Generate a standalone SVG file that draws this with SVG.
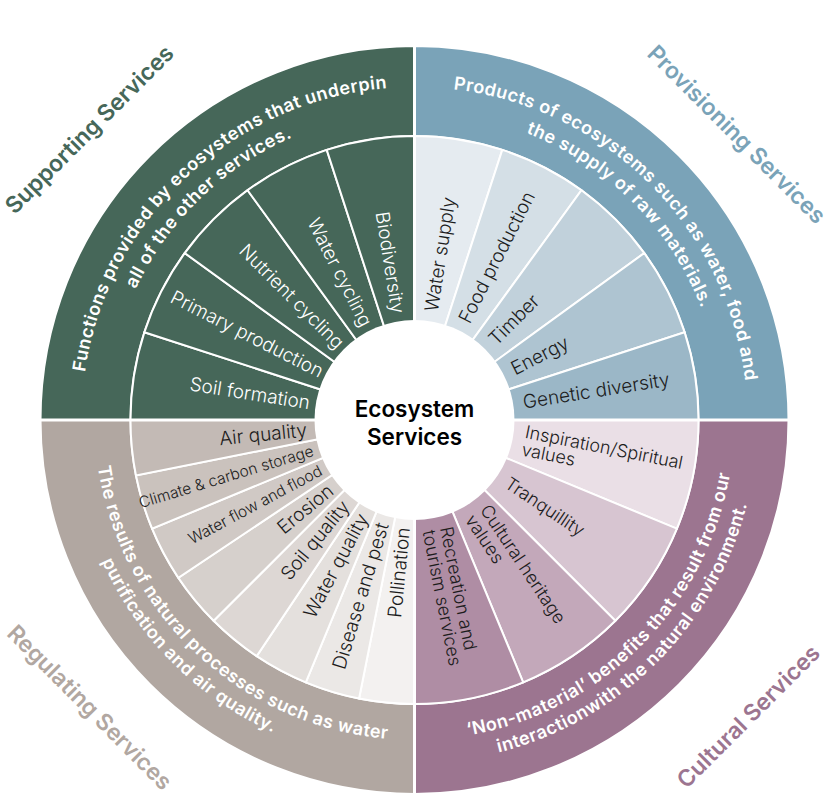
<svg xmlns="http://www.w3.org/2000/svg" width="829" height="810" viewBox="0 0 829 810">
<style>
.seg{stroke:#fff;stroke-width:2}
.lbl{font-family:Inter,"Noto Sans",sans-serif;font-size:19px;font-weight:300;fill:#1c1c1c}
.w{fill:#fff}
.sm{font-size:15.5px}
.cu{font-size:18px}
.band{font-family:Inter,"Noto Sans",sans-serif;font-size:18px;font-weight:600;fill:#fff;letter-spacing:0.5px}
.title{font-family:Inter,"Noto Sans",sans-serif;font-size:23px;font-weight:600}
.ctr{font-family:Inter,"Noto Sans",sans-serif;font-size:22.5px;font-weight:600;fill:#000}
</style>
<defs>
<path id="sp1" d="M81.5 420 A333 333 0 0 1 414.5 87"/>
<path id="sp2" d="M106.5 420 A308 308 0 0 1 414.5 112"/>
<path id="pp1" d="M414.5 87 A333 333 0 0 1 747.5 420"/>
<path id="pp2" d="M414.5 112 A308 308 0 0 1 722.5 420"/>
<path id="cp1" d="M414.5 740 A320 320 0 0 0 734.5 420"/>
<path id="cp2" d="M414.5 763 A343 343 0 0 0 757.5 420"/>
<path id="rp1" d="M94.5 420 A320 320 0 0 0 414.5 740"/>
<path id="rp2" d="M71.5 420 A343 343 0 0 0 414.5 763"/>
</defs>

<g id="supporting">
<path class="seg" fill="#466759" d="M40.5 420 A374 374 0 0 1 414.5 46 L414.5 136 A284 284 0 0 0 130.5 420 Z"/>
<text class="band"><textPath href="#sp1" startOffset="52%" text-anchor="middle">Functions provided by ecosystems that underpin</textPath></text>
<text class="band"><textPath href="#sp2" startOffset="51%" text-anchor="middle">all of the other services.</textPath></text>
<text class="title" fill="#466759" transform="translate(95 135) rotate(-45)" text-anchor="middle">Supporting Services</text>
</g>
<g id="provisioning">
<path class="seg" fill="#7aa3b8" d="M414.5 46 A374 374 0 0 1 788.5 420 L698.5 420 A284 284 0 0 0 414.5 136 Z"/>
<text class="band"><textPath href="#pp1" startOffset="50%" text-anchor="middle">Products of ecosystems such as water, food and</textPath></text>
<text class="band"><textPath href="#pp2" startOffset="50%" text-anchor="middle">the supply of raw materials.</textPath></text>
<text class="title" fill="#7aa3b8" transform="translate(731 140) rotate(45)" text-anchor="middle">Provisioning Services</text>
</g>
<g id="cultural">
<path class="seg" fill="#9c7590" d="M788.5 420 A374 374 0 0 1 414.5 794 L414.5 704 A284 284 0 0 0 698.5 420 Z"/>
<text class="band"><textPath href="#cp1" startOffset="50%" text-anchor="middle">‘Non-material’ benefits that result from our</textPath></text>
<text class="band"><textPath href="#cp2" startOffset="50%" text-anchor="middle">interactionwith the natural environment.</textPath></text>
<text class="title" fill="#9c7590" transform="translate(754 722) rotate(-45)" text-anchor="middle">Cultural Services</text>
</g>
<g id="regulating">
<path class="seg" fill="#b1a7a1" d="M414.5 794 A374 374 0 0 1 40.5 420 L130.5 420 A284 284 0 0 0 414.5 704 Z"/>
<text class="band"><textPath href="#rp1" startOffset="52%" text-anchor="middle">The results of natural processes such as water</textPath></text>
<text class="band"><textPath href="#rp2" startOffset="50%" text-anchor="middle">purification and air quality.</textPath></text>
<text class="title" fill="#b1a7a1" transform="translate(84 713) rotate(45)" text-anchor="middle">Regulating Services</text>
</g>

<g id="soil-formation"><path class="seg" fill="#466759" d="M414.5 420 L130.5 420 A284 284 0 0 1 144.40 332.24 Z"/><text class="lbl w" transform="translate(414.5 420) rotate(9)" x="-106" y="6" text-anchor="end">Soil formation</text></g>
<g id="primary-production"><path class="seg" fill="#466759" d="M414.5 420 L144.40 332.24 A284 284 0 0 1 184.74 253.07 Z"/><text class="lbl w" transform="translate(414.5 420) rotate(27)" x="-104" y="6" text-anchor="end">Primary production</text></g>
<g id="nutrient-cycling"><path class="seg" fill="#466759" d="M414.5 420 L184.74 253.07 A284 284 0 0 1 247.57 190.24 Z"/><text class="lbl w" transform="translate(414.5 420) rotate(45)" x="-105" y="6" text-anchor="end">Nutrient cycling</text></g>
<g id="water-cycling"><path class="seg" fill="#466759" d="M414.5 420 L247.57 190.24 A284 284 0 0 1 326.74 149.90 Z"/><text class="lbl w" transform="translate(414.5 420) rotate(63)" x="-106" y="6" text-anchor="end">Water cycling</text></g>
<g id="biodiversity"><path class="seg" fill="#466759" d="M414.5 420 L326.74 149.90 A284 284 0 0 1 414.5 136 Z"/><text class="lbl w" transform="translate(414.5 420) rotate(81)" x="-108" y="6" text-anchor="end">Biodiversity</text></g>

<g id="water-supply"><path class="seg" fill="#e5ebf0" d="M414.5 420 L414.5 136 A284 284 0 0 1 502.26 149.90 Z"/><text class="lbl" transform="translate(414.5 420) rotate(-81)" x="110" y="6">Water supply</text></g>
<g id="food-production"><path class="seg" fill="#d4dfe6" d="M414.5 420 L502.26 149.90 A284 284 0 0 1 581.43 190.24 Z"/><text class="lbl" transform="translate(414.5 420) rotate(-63)" x="110" y="6">Food production</text></g>
<g id="timber"><path class="seg" fill="#c1d1db" d="M414.5 420 L581.43 190.24 A284 284 0 0 1 644.26 253.07 Z"/><text class="lbl" transform="translate(414.5 420) rotate(-45)" x="110" y="6">Timber</text></g>
<g id="energy"><path class="seg" fill="#aec4d1" d="M414.5 420 L644.26 253.07 A284 284 0 0 1 684.60 332.24 Z"/><text class="lbl" transform="translate(414.5 420) rotate(-27)" x="110" y="6">Energy</text></g>
<g id="genetic-diversity"><path class="seg" fill="#9bb7c7" d="M414.5 420 L684.60 332.24 A284 284 0 0 1 698.5 420 Z"/><text class="lbl" transform="translate(414.5 420) rotate(-9)" x="110" y="6">Genetic diversity</text></g>

<g id="inspiration"><path class="seg" fill="#eadfe6" d="M414.5 420 L698.5 420 A284 284 0 0 1 676.88 528.68 Z"/><text class="lbl cu" transform="translate(414.5 420) rotate(11.25)" y="-4"><tspan x="111">Inspiration/Spiritual</tspan><tspan x="111" y="14">values</tspan></text></g>
<g id="tranquillity"><path class="seg" fill="#d7c5d1" d="M414.5 420 L676.88 528.68 A284 284 0 0 1 615.32 620.82 Z"/><text class="lbl cu" transform="translate(414.5 420) rotate(33.75)" x="111" y="6">Tranquillity</text></g>
<g id="cultural-heritage"><path class="seg" fill="#c3a8ba" d="M414.5 420 L615.32 620.82 A284 284 0 0 1 523.18 682.38 Z"/><text class="lbl cu" transform="translate(414.5 420) rotate(56.25)" y="-4"><tspan x="111">Cultural heritage</tspan><tspan x="111" y="14">values</tspan></text></g>
<g id="recreation"><path class="seg" fill="#af8da4" d="M414.5 420 L523.18 682.38 A284 284 0 0 1 414.5 704 Z"/><text class="lbl cu" transform="translate(414.5 420) rotate(78.75)" y="-4"><tspan x="111">Recreation and</tspan><tspan x="111" y="14">tourism services</tspan></text></g>

<g id="pollination"><path class="seg" fill="#f3f1f0" d="M414.5 420 L414.5 704 A284 284 0 0 1 359.09 698.54 Z"/><text class="lbl" transform="translate(414.5 420) rotate(-84.375)" x="-108" y="6" text-anchor="end">Pollination</text></g>
<g id="disease-pest"><path class="seg" fill="#ebe8e6" d="M414.5 420 L359.09 698.54 A284 284 0 0 1 305.82 682.38 Z"/><text class="lbl" transform="translate(414.5 420) rotate(-73.125)" x="-108" y="6" text-anchor="end">Disease and pest</text></g>
<g id="water-quality"><path class="seg" fill="#e4e0dd" d="M414.5 420 L305.82 682.38 A284 284 0 0 1 256.72 656.14 Z"/><text class="lbl" transform="translate(414.5 420) rotate(-61.875)" x="-108" y="6" text-anchor="end">Water quality</text></g>
<g id="soil-quality"><path class="seg" fill="#ddd7d4" d="M414.5 420 L256.72 656.14 A284 284 0 0 1 213.68 620.82 Z"/><text class="lbl" transform="translate(414.5 420) rotate(-50.625)" x="-108" y="6" text-anchor="end">Soil quality</text></g>
<g id="erosion"><path class="seg" fill="#d6d0cc" d="M414.5 420 L213.68 620.82 A284 284 0 0 1 178.36 577.78 Z"/><text class="lbl" transform="translate(414.5 420) rotate(-39.375)" x="-108" y="6" text-anchor="end">Erosion</text></g>
<g id="water-flow"><path class="seg" fill="#d0c9c5" d="M414.5 420 L178.36 577.78 A284 284 0 0 1 152.12 528.68 Z"/><text class="lbl sm" transform="translate(414.5 420) rotate(-28.125)" x="-106" y="5" text-anchor="end">Water flow and flood</text></g>
<g id="climate"><path class="seg" fill="#cac2bd" d="M414.5 420 L152.12 528.68 A284 284 0 0 1 135.96 475.41 Z"/><text class="lbl sm" transform="translate(414.5 420) rotate(-16.875)" x="-106" y="5" text-anchor="end">Climate &amp; carbon storage</text></g>
<g id="air-quality"><path class="seg" fill="#c3bab5" d="M414.5 420 L135.96 475.41 A284 284 0 0 1 130.5 420 Z"/><text class="lbl" transform="translate(414.5 420) rotate(-5.625)" x="-108" y="6" text-anchor="end">Air quality</text></g>

<g id="connectors">
<path d="M36 420 H793 M414.5 42 V798" stroke="#fff" stroke-width="3" fill="none"/>
</g>

<g id="center">
<circle cx="414.5" cy="420" r="100" fill="#fff"/>
<text class="ctr" x="414.5" y="417" text-anchor="middle">Ecosystem</text>
<text class="ctr" x="414.5" y="445" text-anchor="middle">Services</text>
</g>
</svg>
